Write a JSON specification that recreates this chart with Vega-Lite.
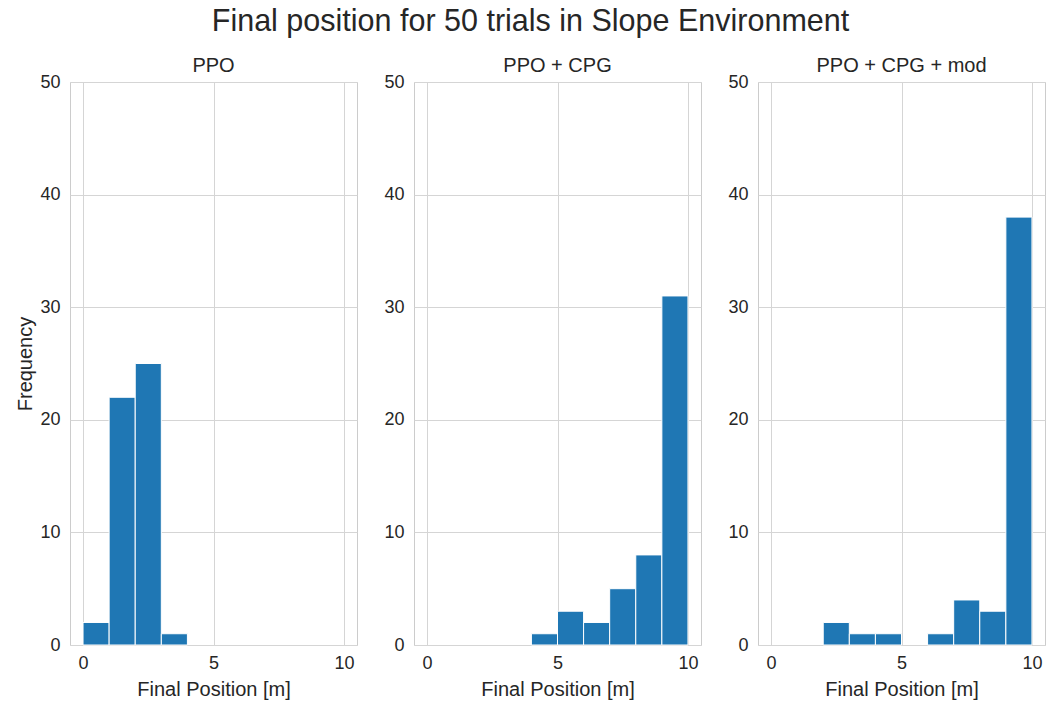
{
  "$schema": "https://vega.github.io/schema/vega-lite/v6.json",
  "padding": {"left": 15, "top": 6, "right": 2, "bottom": 0},
  "title": {"text": "Final position for 50 trials in Slope Environment", "fontSize": 30.5, "font": "Liberation Sans", "fontWeight": "normal", "color": "#262626", "anchor": "middle", "offset": 18.5},
  "datasets": {
    "ppo": [
      {"start": 0, "end": 1, "count": 2},
      {"start": 1, "end": 2, "count": 22},
      {"start": 2, "end": 3, "count": 25},
      {"start": 3, "end": 4, "count": 1}
    ],
    "cpg": [
      {"start": 4, "end": 5, "count": 1},
      {"start": 5, "end": 6, "count": 3},
      {"start": 6, "end": 7, "count": 2},
      {"start": 7, "end": 8, "count": 5},
      {"start": 8, "end": 9, "count": 8},
      {"start": 9, "end": 10, "count": 31}
    ],
    "mod": [
      {"start": 2, "end": 3, "count": 2},
      {"start": 3, "end": 4, "count": 1},
      {"start": 4, "end": 5, "count": 1},
      {"start": 6, "end": 7, "count": 1},
      {"start": 7, "end": 8, "count": 4},
      {"start": 8, "end": 9, "count": 3},
      {"start": 9, "end": 10, "count": 38}
    ]
  },
  "spacing": 25,
  "hconcat": [
    {
      "width": 287, "height": 563,
      "title": {"text": "PPO"},
      "data": {"name": "ppo"},
      "mark": {"type": "bar", "color": "#1f77b4", "stroke": "white", "strokeWidth": 1},
      "encoding": {
        "x": {"field": "start", "type": "quantitative", "scale": {"domain": [-0.5, 10.5], "nice": false, "zero": false}, "axis": {"values": [0, 5, 10], "title": "Final Position [m]"}},
        "x2": {"field": "end"},
        "y": {"field": "count", "type": "quantitative", "scale": {"domain": [0, 50], "nice": false}, "axis": {"values": [0, 10, 20, 30, 40, 50], "title": "Frequency"}},
        "y2": {"datum": 0}
      }
    },
    {
      "width": 287, "height": 563,
      "title": {"text": "PPO + CPG"},
      "data": {"name": "cpg"},
      "mark": {"type": "bar", "color": "#1f77b4", "stroke": "white", "strokeWidth": 1},
      "encoding": {
        "x": {"field": "start", "type": "quantitative", "scale": {"domain": [-0.5, 10.5], "nice": false, "zero": false}, "axis": {"values": [0, 5, 10], "title": "Final Position [m]"}},
        "x2": {"field": "end"},
        "y": {"field": "count", "type": "quantitative", "scale": {"domain": [0, 50], "nice": false}, "axis": {"values": [0, 10, 20, 30, 40, 50], "title": null}},
        "y2": {"datum": 0}
      }
    },
    {
      "width": 287, "height": 563,
      "title": {"text": "PPO + CPG + mod"},
      "data": {"name": "mod"},
      "mark": {"type": "bar", "color": "#1f77b4", "stroke": "white", "strokeWidth": 1},
      "encoding": {
        "x": {"field": "start", "type": "quantitative", "scale": {"domain": [-0.5, 10.5], "nice": false, "zero": false}, "axis": {"values": [0, 5, 10], "title": "Final Position [m]"}},
        "x2": {"field": "end"},
        "y": {"field": "count", "type": "quantitative", "scale": {"domain": [0, 50], "nice": false}, "axis": {"values": [0, 10, 20, 30, 40, 50], "title": null}},
        "y2": {"datum": 0}
      }
    }
  ],
  "config": {
    "font": "Liberation Sans",
    "view": {"stroke": "#cccccc", "strokeWidth": 1},
    "axis": {
      "domain": false, "ticks": false, "grid": true, "gridColor": "#d5d5d5", "gridWidth": 1,
      "labelFont": "Liberation Sans", "labelFontSize": 18, "labelColor": "#262626", "labelPadding": 10,
      "titleFont": "Liberation Sans", "titleFontSize": 20, "titleFontWeight": "normal", "titleColor": "#262626", "titlePadding": 6
    },
    "axisX": {"labelPadding": 9, "titlePadding": 7},
    "axisY": {"titlePadding": 4},
    "title": {"fontSize": 20, "fontWeight": "normal", "font": "Liberation Sans", "color": "#262626", "offset": -3}
  }
}
